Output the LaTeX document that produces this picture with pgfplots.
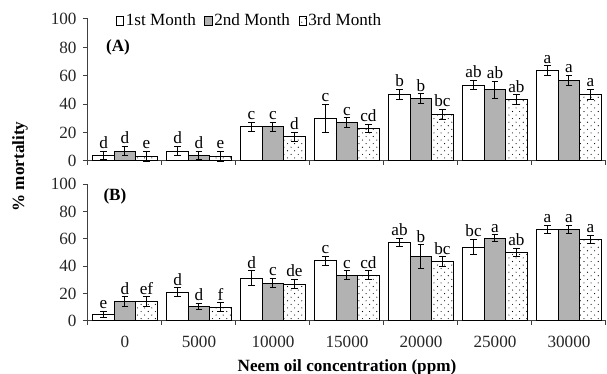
\documentclass[border=0pt]{standalone}
\usepackage{fontspec}
\setmainfont{Liberation Serif}
\usepackage{pgfplots}
\pgfplotsset{compat=1.18}
\usepackage{pgfplotstable}
\usetikzlibrary{patterns}
\pgfdeclarepatternformonly{sparsedots}{\pgfqpoint{-1pt}{-1pt}}{\pgfqpoint{6pt}{6pt}}{\pgfqpoint{5pt}{5pt}}{%
 \pgfpathcircle{\pgfqpoint{1.25pt}{1.25pt}}{0.4pt}%
 \pgfpathcircle{\pgfqpoint{3.75pt}{3.75pt}}{0.4pt}%
 \pgfusepath{fill}}
\definecolor{bargray}{RGB}{178,178,178}

\pgfplotstableread{
x y e l
0 4 3 d
1 7 3 d
2 24 3 c
3 30 10 c
4 46.7 3.5 b
5 53.5 3 ab
6 63.4 3.5 a
}\Aone
\pgfplotstableread{
x y e l
0 7 3 d
1 4 3 d
2 24 3 c
3 26.8 3.5 c
4 43.7 3.5 b
5 50 6 ab
6 56.8 3.5 a
}\Atwo
\pgfplotstableread{
x y e l
0 3.3 3.5 e
1 3.3 3.5 e
2 17 3 d
3 23 3 cd
4 32.9 3.5 bc
5 43 3.5 ab
6 46.7 3.5 a
}\Athree
\pgfplotstableread{
x y e l
0 4.6 2.5 e
1 21 3 d
2 31 5.5 d
3 43.8 3.5 c
4 57.5 3 ab
5 54 5.5 bc
6 66.7 3 a
}\Bone
\pgfplotstableread{
x y e l
0 13.9 3.5 d
1 10.5 2 d
2 27.6 3.5 c
3 33.5 3 c
4 47 8.5 b
5 60.4 2.5 a
6 66.7 3 a
}\Btwo
\pgfplotstableread{
x y e l
0 13.9 3.5 ef
1 10 3 f
2 26.9 3.5 de
3 33.5 3 cd
4 43.3 3.5 bc
5 50.1 3 ab
6 59.7 3 a
}\Bthree

\newcommand{\fs}{\fontsize{12}{14}\selectfont}

\pgfplotsset{
 myaxis/.style={
  width=362.6pt, scale only axis,
  xmin=-0.5, xmax=6.5, ymin=0, ymax=100,
  ytick={0,20,...,100},
  axis lines=left,
  axis line style={-, black!75, line width=0.7pt},
  ybar=0pt, bar width=0.29,
  xtick={0,...,6},
  major x tick style={draw=none},
  minor xtick={-0.5,0.5,...,6.5},
  minor tick length=2.8pt,
  major tick length=3.5pt,
  tick align=outside,
  tick style={black!75, line width=0.7pt},
  enlargelimits=false,
  clip=false,
  ticklabel style={font=\fs, text=black!85},
  yticklabel style={xshift=-1pt},
  /pgf/number format/assume math mode=true,
  error bars/y dir=both, error bars/y explicit,
  error bars/error bar style={black, line width=0.7pt},
  error bars/error mark options={rotate=90, mark size=2.4pt, black, line width=0.7pt},
  nodes near coords, point meta=explicit symbolic,
  visualization depends on={\thisrow{e}\as\err},
  every node near coord/.append style={shift={(axis direction cs:0,\err)}, anchor=south, font=\fs, inner sep=1.5pt, black},
 },
 m1/.style={fill=white, draw=black, line width=0.7pt},
 m2/.style={fill=bargray, draw=black, line width=0.7pt},
 m3/.style={fill=white, draw=black, line width=0.7pt, postaction={pattern=sparsedots}},
}

\begin{document}
\begin{tikzpicture}
\useasboundingbox (-61.6pt,-37.3pt) rectangle (363.3pt,224.5pt);
% Panel A
\begin{axis}[myaxis, at={(0pt,111.8pt)}, anchor=south west, height=99.4pt,
  xticklabels={,,,,,,},
  legend style={at={(0.054,0.986)}, anchor=west, draw=none, fill=none, inner sep=0pt, outer sep=0pt,
    legend columns=-1, font=\fs, nodes={inner xsep=1pt},
    /tikz/every even column/.append style={column sep=5pt},
    legend cell align=left},
  legend image code/.code={\draw[#1] (0pt,-3.2pt) rectangle (5.2pt,3.2pt);},
]
\addplot[m1] table[x=x,y=y,y error=e,meta=l] {\Aone};
\addplot[m2] table[x=x,y=y,y error=e,meta=l] {\Atwo};
\addplot[m3] table[x=x,y=y,y error=e,meta=l] {\Athree};
\legend{1st Month,2nd Month,3rd Month}
\node[font=\fs\bfseries] at (rel axis cs:0.058,0.80) {(A)};
\end{axis}
% Panel B
\begin{axis}[myaxis, at={(0pt,0pt)}, anchor=south west, height=95.5pt,
  xticklabels={0,5000,10000,15000,20000,25000,30000},
  xticklabel style={anchor=center, yshift=-11pt},
  xlabel={Neem oil concentration (ppm)},
  xlabel style={at={(axis description cs:0.5,0)}, anchor=center, yshift=-32.4pt, font=\fs\bfseries},
]
\addplot[m1] table[x=x,y=y,y error=e,meta=l] {\Bone};
\addplot[m2] table[x=x,y=y,y error=e,meta=l] {\Btwo};
\addplot[m3] table[x=x,y=y,y error=e,meta=l] {\Bthree};
\node[font=\fs\bfseries] at (rel axis cs:0.052,0.91) {(B)};
\end{axis}
\node[rotate=90, font=\fs\bfseries] at (-47.6pt,107.9pt) {\% mortality};
\end{tikzpicture}
\end{document}
